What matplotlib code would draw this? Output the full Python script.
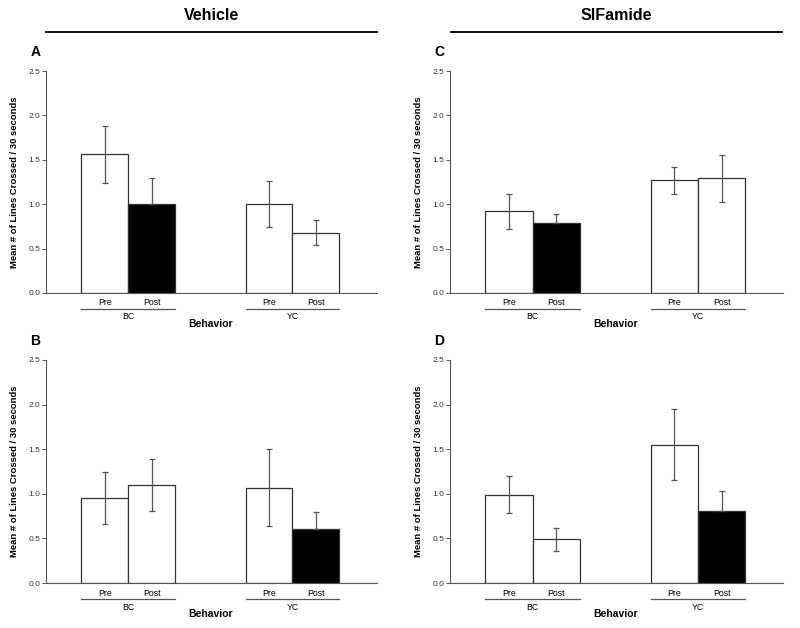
import numpy as np
import matplotlib
matplotlib.use('Agg')
import matplotlib.pyplot as plt
import matplotlib.transforms as mtransforms

plt.rcParams['font.family'] = ['Liberation Sans', 'DejaVu Sans']

# Data
groups = ['BC', 'YC']
conditions = ['Pre', 'Post', 'Pre', 'Post']
panel_letters = ['A', 'C', 'B', 'D']
column_titles = ['Vehicle', 'SIFamide']

means_A = [1.56, 1.00, 1.00, 0.68]
errs_A = [0.32, 0.29, 0.26, 0.14]
filled_A = [False, True, False, False]

means_C = [0.92, 0.79, 1.27, 1.29]
errs_C = [0.20, 0.10, 0.15, 0.26]
filled_C = [False, True, False, False]

means_B = [0.95, 1.10, 1.07, 0.61]
errs_B = [0.29, 0.295, 0.43, 0.19]
filled_B = [False, False, False, True]

means_D = [0.99, 0.49, 1.55, 0.81]
errs_D = [0.21, 0.13, 0.40, 0.22]
filled_D = [False, False, False, True]

y_ticks = [0.0, 0.5, 1.0, 1.5, 2.0, 2.5]
y_label = 'Mean # of Lines Crossed / 30 seconds'

W, H = 800, 628
fig = plt.figure(figsize=(8, 6.28), dpi=100)

positions = np.array([1.25, 2.25, 4.75, 5.75])
gray = '#555555'


def px_axes(left, top, right, bottom):
    return fig.add_axes([left / W, 1 - bottom / H, (right - left) / W, (bottom - top) / H])


def draw_panel(ax, means, errs, filled, letter):
    h_px = ax.get_position().height * H
    lower = [0 if f else e for e, f in zip(errs, filled)]
    colors = ['black' if f else 'white' for f in filled]
    ax.bar(positions, means, width=1.0, color=colors, edgecolor='#333333', linewidth=0.9, zorder=2)
    ax.errorbar(positions, means, yerr=[lower, errs], fmt='none', ecolor=gray,
                elinewidth=0.9, capsize=2.5, capthick=0.9, zorder=3)
    ax.set_xlim(0, 7.05)
    ax.set_ylim(0, 2.5)
    ax.set_yticks(y_ticks)
    ax.set_yticklabels(['%.1f' % t for t in y_ticks])
    ax.tick_params(axis='y', labelsize=6, length=3, width=0.7, color=gray, pad=1,
                   labelcolor='#333333')
    ax.set_xticks([])
    for s in ['top', 'right']:
        ax.spines[s].set_visible(False)
    for s in ['left', 'bottom']:
        ax.spines[s].set_color(gray)
        ax.spines[s].set_linewidth(0.8)
    ax.set_ylabel(y_label, fontsize=6.8, fontweight='bold', labelpad=7)

    trans = mtransforms.blended_transform_factory(ax.transData, ax.transAxes)
    for p, c in zip(positions, conditions):
        ax.text(p, -10 / h_px, c, transform=trans, ha='center', va='center', fontsize=6.3)
    for i, g in enumerate(groups):
        x0 = positions[2 * i] - 0.5
        x1 = positions[2 * i + 1] + 0.5
        ax.plot([x0, x1], [-16 / h_px, -16 / h_px], transform=trans, color=gray,
                linewidth=0.9, clip_on=False)
        ax.text((x0 + x1) / 2, -24 / h_px, g, transform=trans, ha='center', va='center',
                fontsize=6.3)
    ax.text(3.5, -31 / h_px, 'Behavior', transform=trans, ha='center', va='center',
            fontsize=7.5, fontweight='bold')
    ax.text(-0.23, 1.0 + 19 / h_px, letter, transform=trans, ha='center',
            va='center', fontsize=10, fontweight='bold')


axA = px_axes(46, 71, 377, 293)
axC = px_axes(450, 71, 783, 293)
axB = px_axes(46, 360, 377, 583)
axD = px_axes(450, 360, 783, 583)

draw_panel(axA, means_A, errs_A, filled_A, 'A')
draw_panel(axC, means_C, errs_C, filled_C, 'C')
draw_panel(axB, means_B, errs_B, filled_B, 'B')
draw_panel(axD, means_D, errs_D, filled_D, 'D')

# column headers with rules
for title, (x0, x1) in zip(column_titles, [(46, 377), (451, 782)]):
    fig.text((x0 + x1) / 2 / W, 1 - 15 / H, title, ha='center', va='center',
             fontsize=11.5, fontweight='bold')
    fig.add_artist(plt.Line2D([x0 / W, x1 / W], [1 - 32 / H, 1 - 32 / H], color='black',
                              linewidth=1.3))

fig.savefig('out.png', dpi=100, facecolor='white')
